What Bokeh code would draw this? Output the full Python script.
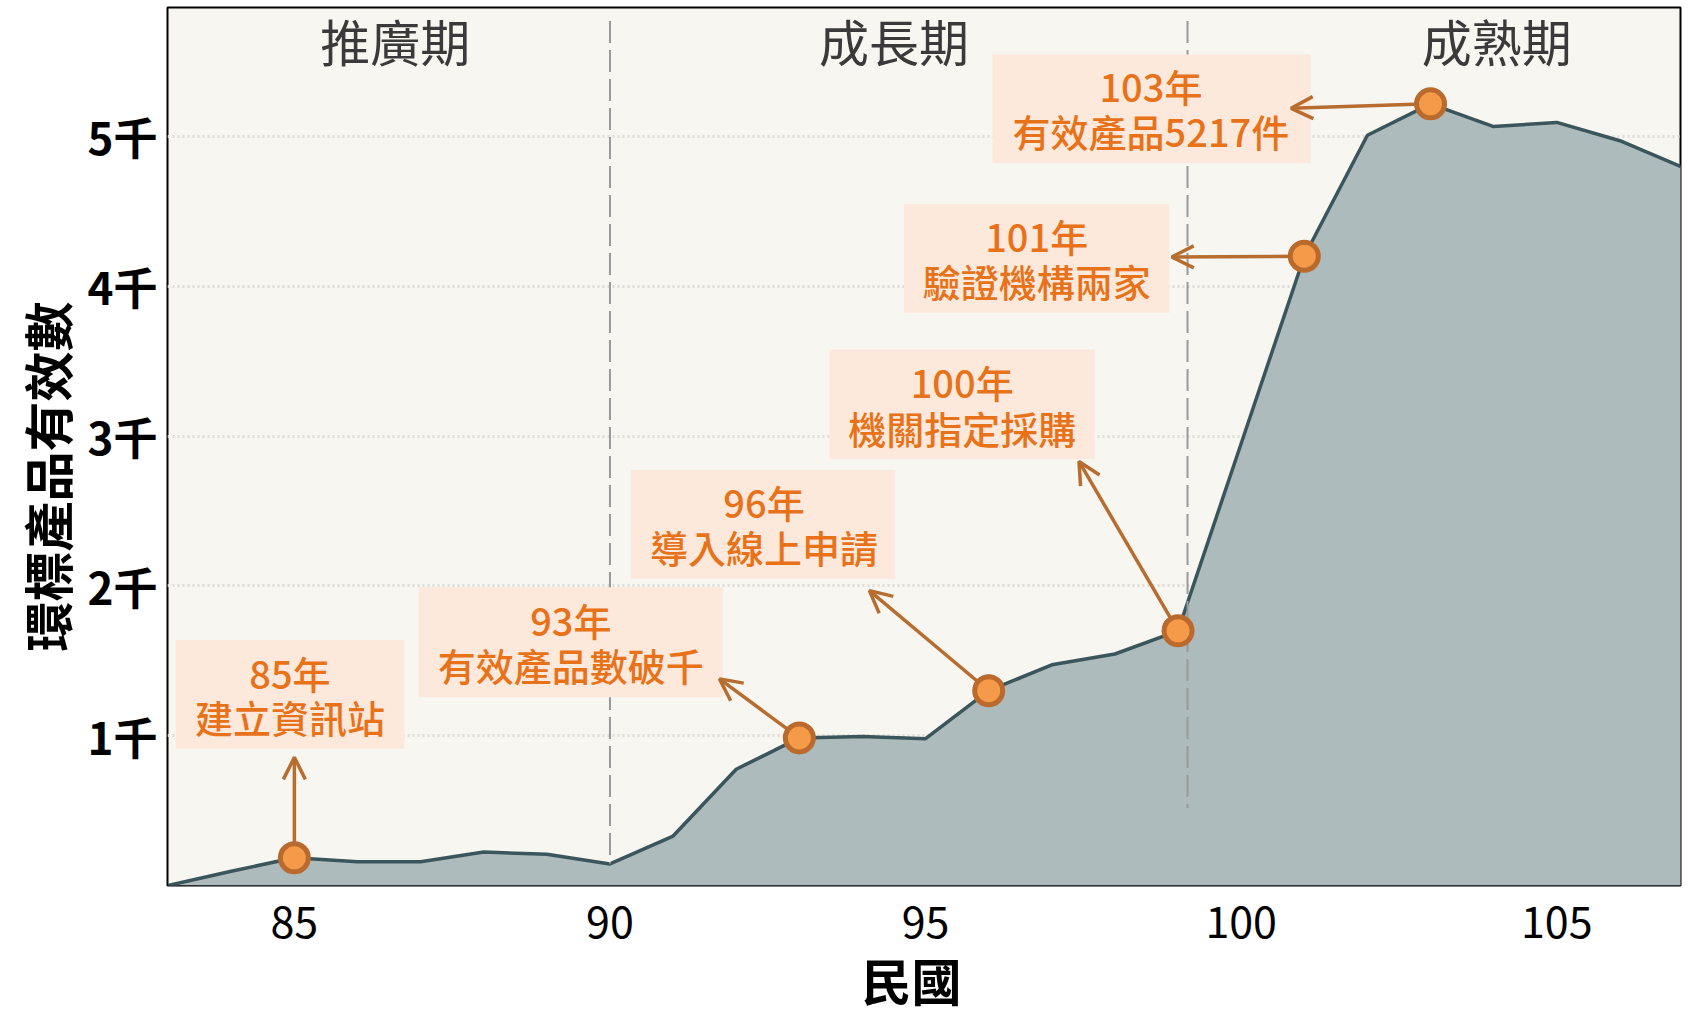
from bokeh.plotting import figure
from bokeh.models import (Range1d, FixedTicker, ColumnDataSource, Arrow, OpenHead, Title)
from bokeh.core.properties import value
from bokeh.embed import file_html
from bokeh.resources import INLINE

# ---- data ----
years = [83, 84, 85, 86, 87, 88, 89, 90, 91, 92, 93, 94, 95, 96, 97, 98, 99,
         100, 101, 102, 103, 104, 105, 106, 107]
counts = [0, 95, 185, 158, 158, 223, 208, 144, 330, 776, 985, 995, 980, 1300,
          1473, 1545, 1700, 2950, 4200, 5007, 5217, 5065, 5093, 4971, 4792]

x_ticks = [85, 90, 95, 100, 105]
y_ticks = [1000, 2000, 3000, 4000, 5000]
y_tick_labels = ["1千", "2千", "3千", "4千", "5千"]
x_title = "民國"
y_title = "環標產品有效數"

phase_names = ["推廣期", "成長期", "成熟期"]
phase_x = [86.6, 94.5, 104.05]
phase_bounds = [90, 99.15]
phase_bound_bottom = [147, 517]

event_years = [85, 93, 96, 99, 101, 103]
event_counts = [185, 985, 1300, 1700, 4200, 5217]
event_title = ["85年", "93年", "96年", "100年", "101年", "103年"]
event_text = ["建立資訊站", "有效產品數破千", "導入線上申請", "機關指定採購",
              "驗證機構兩家", "有效產品5217件"]

# annotation box placement (data units)
box_left = [83.12, 86.97, 90.33, 93.48, 94.66, 96.06]
box_right = [86.74, 91.79, 94.52, 97.68, 98.86, 101.10]
box_top = [1638, 1990, 2773, 3578, 4547, 5546]
box_bottom = [912, 1257, 2047, 2845, 3822, 4820]
label_x = [84.93, 89.38, 92.44, 95.58, 96.76, 98.57]
label_y1 = [1422, 1774, 2565, 3362, 4339, 5338]
label_y2 = [1128, 1473, 2263, 3060, 4037, 5036]
arrow_x_end = [85, 91.735, 94.11, 97.43, 98.90, 100.79]
arrow_y_end = [855, 1379, 1968, 2830, 4195, 5187]

CJK = "Noto Sans CJK TC"
CJK_MED = "Noto Sans CJK TC Medium"

p = figure(width=1684, height=1014, output_backend="svg", toolbar_location=None,
           x_range=Range1d(82.99, 106.96), y_range=Range1d(0, 5860),
           min_border_left=167, min_border_right=4, min_border_top=7,
           min_border_bottom=129)

p.border_fill_color = "white"
p.background_fill_color = "#f7f6f1"
p.outline_line_color = "black"
p.outline_line_width = 2

# axes
p.xaxis.ticker = FixedTicker(ticks=x_ticks)
p.yaxis.ticker = FixedTicker(ticks=y_ticks)
p.yaxis.major_label_overrides = {t: l for t, l in zip(y_ticks, y_tick_labels)}
for ax in (p.xaxis, p.yaxis):
    ax.axis_line_color = None
    ax.major_tick_line_color = None
    ax.minor_tick_line_color = None
    ax.major_label_text_color = "black"
    ax.major_label_text_font = CJK

p.xaxis.major_label_text_font_size = "43px"
p.xaxis.major_label_standoff = 14

p.yaxis.major_label_text_font_size = "44px"
p.yaxis.major_label_text_font_style = "bold"
p.yaxis.major_label_standoff = 4

# axis titles
p.add_layout(Title(text=x_title, align="left", offset=694, standoff=0,
                   text_font=CJK, text_font_style="bold", text_font_size="50px",
                   text_color="black"), "below")
p.add_layout(Title(text=y_title, align="left", offset=234, standoff=6,
                   text_font=CJK, text_font_style="bold", text_font_size="50px",
                   text_color="black"), "left")

p.xgrid.grid_line_color = None
p.ygrid.grid_line_color = "#dedcd6"
p.ygrid.grid_line_width = 3
p.ygrid.grid_line_dash = "2 3"

# area
src = ColumnDataSource(dict(x=years, y=counts, z=[0] * len(years)))
p.varea(x="x", y1="z", y2="y", source=src, fill_color="#aebbbc")
p.line(x="x", y="y", source=src, line_color="#3a565c", line_width=3.5)

# phase boundaries
p.segment(x0=phase_bounds, y0=[5770, 5770], x1=phase_bounds, y1=phase_bound_bottom,
          line_color="#9a9a9a", line_width=2, line_dash="22 7")

# phase names
p.text(x=phase_x, y=[5640] * 3, text=phase_names, text_font=value(CJK),
       text_font_size="50px", text_color="#3a3a3a", text_align="center",
       text_baseline="middle")

# annotation boxes
p.quad(left=box_left, right=box_right, top=box_top, bottom=box_bottom,
       fill_color="#fde9dc", line_color=None)
p.text(x=label_x, y=label_y1, text=event_title, text_font=value(CJK_MED),
       text_font_size="38px", text_color="#e8721a", text_align="center",
       text_baseline="middle")
p.text(x=label_x, y=label_y2, text=event_text, text_font=value(CJK_MED),
       text_font_size="38px", text_color="#e8721a", text_align="center",
       text_baseline="middle")

# arrows (drawn above the boxes, below the markers)
asrc = ColumnDataSource(dict(x0=event_years, y0=event_counts,
                             x1=arrow_x_end, y1=arrow_y_end))
arrow = Arrow(end=OpenHead(size=22, line_color="#b86d30", line_width=3.5),
              x_start="x0", y_start="y0", x_end="x1", y_end="y1",
              line_color="#b86d30", line_width=3.5, source=asrc, level="glyph")
p.renderers.append(arrow)

# markers
p.scatter(x=event_years, y=event_counts, size=28, fill_color="#f59a48",
          line_color="#b96a2c", line_width=5)

open("out.html", "w").write(file_html(p, INLINE))
